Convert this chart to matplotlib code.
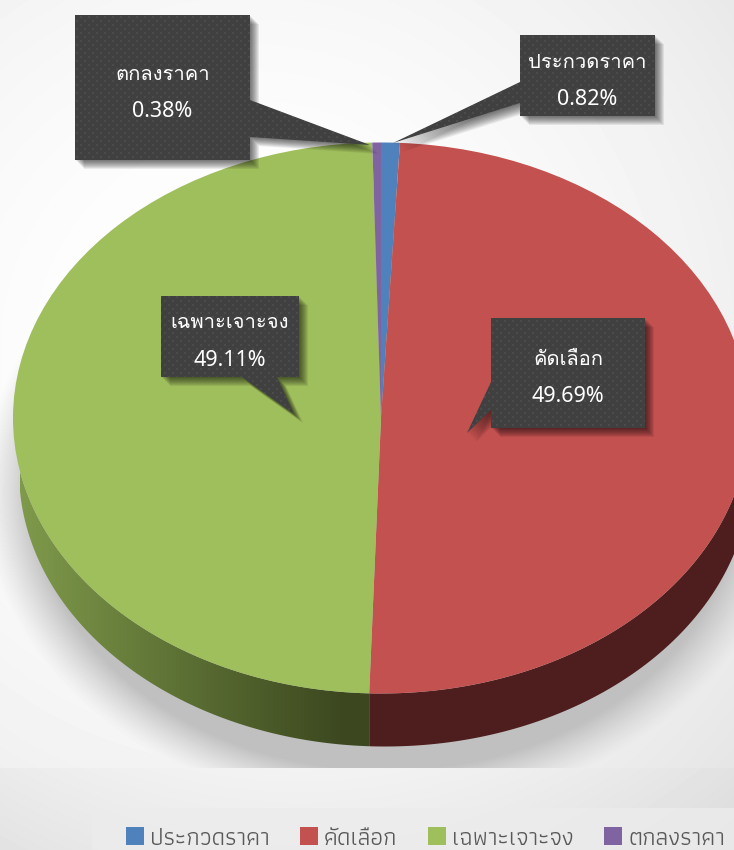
import numpy as np
import matplotlib
matplotlib.use('Agg')
import matplotlib.pyplot as plt
from matplotlib.patches import Polygon, Rectangle

W, H = 734, 850

categories = ['ประกวดราคา', 'คัดเลือก', 'เฉพาะเจาะจง', 'ตกลงราคา']
shares = [0.82, 49.69, 49.11, 0.38]
colors = ['#4F81BD', '#C3514F', '#9FBE5C', '#8064A2']
labels = ['0.82%', '49.69%', '49.11%', '0.38%']

THAI = ['Loma', 'Noto Sans Thai', 'Noto Sans', 'DejaVu Sans']
LABEL_FONT = ['Noto Sans', 'Loma', 'DejaVu Sans']
LEGEND_FONT = ['Athiti', 'Loma', 'Noto Sans', 'DejaVu Sans']

# ellipse of the top face and of the lower rim, in pixels
TOP = (381, 418, 368, 275.5)
BOT = (385, 471, 366, 275.5)

# callouts: box (x0, y0, x1, y1), tail base on the box, tail tip
callouts = {
    'ตกลงราคา': ((75, 15, 250, 160), [(250, 100), (250, 137)], (370, 145)),
    'ประกวดราคา': ((520, 35, 655, 116), [(520, 82), (520, 103)], (393, 143)),
    'เฉพาะเจาะจง': ((161, 296, 299, 377), [(242, 377), (277, 377)], (294, 414)),
    'คัดเลือก': ((491, 318, 645, 428), [(491, 382), (491, 410)], (467, 433)),
}


def rim(e, x):
    cx, cy, rx, ry = e
    return cy + ry * np.sqrt(np.clip(1 - ((x - cx) / rx) ** 2, 0, 1))


def pixel_axes(fig, x0, y0, x1, y1, z):
    return fig.add_axes([x0 / W, 1 - y1 / H, (x1 - x0) / W, (y1 - y0) / H], zorder=z)


fig = plt.figure(figsize=(W / 100, H / 100), dpi=100)

# page background + blurred shadow under the pie
bg = fig.add_axes([0, 0, 1, 1], zorder=0)
bg.set_xlim(0, W)
bg.set_ylim(H, 0)
bg.axis('off')
yy, xx = np.mgrid[0:H, 0:W]
r = np.hypot(xx - 250, yy - 350) / 600
page = 1 - 0.09 * r ** 2
under = yy >= 768
page[under] = 0.95 - 0.065 * (np.abs(xx[under] - 300) / 434) ** 2 - 0.03 * ((yy[under] - 768) / 82)
d = (np.hypot((xx - 385) / 375, (yy - 490) / 298) - 1) * 320
shade = np.clip(1 - (d + 20) / 45, 0, 1) ** 1.2
shade[under] = 0
page = page * (1 - shade) + 0.75 * shade
bg.imshow(page, cmap='gray', vmin=0, vmax=1, extent=(0, W, H, 0), aspect='auto', zorder=0)
bg.add_patch(Rectangle((92, 808), W - 92, 42, fc='#ececec', ec='none', alpha=0.8, zorder=1))

# side of the pie
xs = np.linspace(BOT[0] - BOT[2], W + 30, 900)
split_angle = 2 * np.pi * (shares[0] + shares[1]) / sum(shares)
x_split = TOP[0] + TOP[2] * np.sin(split_angle)
left = xs[xs <= x_split]
left = np.append(left, x_split)
right = xs[xs >= x_split]
right = np.insert(right, 0, x_split)


def side_poly(x):
    top = np.column_stack([x, rim(TOP, x)])
    low = np.column_stack([x, rim(BOT, x)])
    return np.vstack([top, low[::-1]])


bg.add_patch(Polygon(side_poly(right), fc='#4D1E1D', ec='none', zorder=2))
grad = np.linspace(0, 1, 256)[None, :]
side_cmap = matplotlib.colors.LinearSegmentedColormap.from_list(
    'side', ['#7F9A4B', '#5C7034', '#3C471F'])
im = bg.imshow(grad, cmap=side_cmap, extent=(20, 345, 770, 430), aspect='auto', zorder=2)
# extend the last colour up to the split
bg.add_patch(Rectangle((345, 600), x_split - 345, 170, fc='#3C471F', ec='none', zorder=2,
                       clip_path=Polygon(side_poly(left), transform=bg.transData)))
im.set_clip_path(Polygon(side_poly(left), transform=bg.transData))
bg.set_xlim(0, W)
bg.set_ylim(H, 0)

# top face: a normal pie stretched into the ellipse
cx, cy, rx, ry = TOP
pad = 1.02
ax = pixel_axes(fig, cx - rx * pad, cy - ry * pad, cx + rx * pad, cy + ry * pad, 2)
wedges, _ = ax.pie(shares, colors=colors, startangle=90, counterclock=False, radius=1,
                   wedgeprops={'linewidth': 0})
ax.set_aspect('auto')
ax.set_xlim(-pad, pad)
ax.set_ylim(-pad, pad)

# callouts on top
ov = fig.add_axes([0, 0, 1, 1], zorder=3)
ov.set_xlim(0, W)
ov.set_ylim(H, 0)
ov.axis('off')

# dotted texture of the boxes
tex = np.full((H, W), 0.25)
tex[(yy % 8 < 2) & (xx % 8 < 2)] = 0.295
tex[((yy + 4) % 8 < 2) & ((xx + 4) % 8 < 2)] = 0.295

for name, lab in zip(categories, labels):
    (x0, y0, x1, y1), base, tip = callouts[name]
    # outline goes round the box, tail inserted at its base
    if base[0][0] == x1:
        pts = [(x0, y0), (x1, y0), base[0], tip, base[1], (x1, y1), (x0, y1)]
    elif base[0][0] == x0:
        pts = [(x0, y0), (x1, y0), (x1, y1), (x0, y1), base[1], tip, base[0]]
    else:
        pts = [(x0, y0), (x1, y0), (x1, y1), base[1], tip, base[0], (x0, y1)]
    pts = np.array(pts, dtype=float)
    for off in range(1, 10):
        ov.add_patch(Polygon(pts + off, fc='black', ec='none', alpha=0.075, zorder=1))
    im2 = ov.imshow(tex, cmap='gray', vmin=0, vmax=1, extent=(0, W, H, 0), aspect='auto', zorder=2)
    im2.set_clip_path(Polygon(pts, transform=ov.transData))
    xc = (x0 + x1) / 2
    yc = (y0 + y1) / 2
    ov.text(xc, yc - 13.5, name, color='white', fontsize=14.5, family=THAI,
            ha='center', va='center', zorder=3)
    ov.text(xc, yc + 23.5, lab, color='white', fontsize=15.5, family=LABEL_FONT,
            ha='center', va='center', zorder=3)
ov.set_xlim(0, W)
ov.set_ylim(H, 0)

leg = fig.legend(wedges, categories, ncols=4, loc='lower right', bbox_to_anchor=(0.988, 0.0005),
                 frameon=False, prop={'family': LEGEND_FONT, 'size': 17.5}, labelcolor='#595959',
                 borderaxespad=0, borderpad=0,
                 handlelength=0.74, handleheight=0.74, handletextpad=0.25, columnspacing=1.25)
leg.set_zorder(5)

fig.savefig('out.png', dpi=100)
